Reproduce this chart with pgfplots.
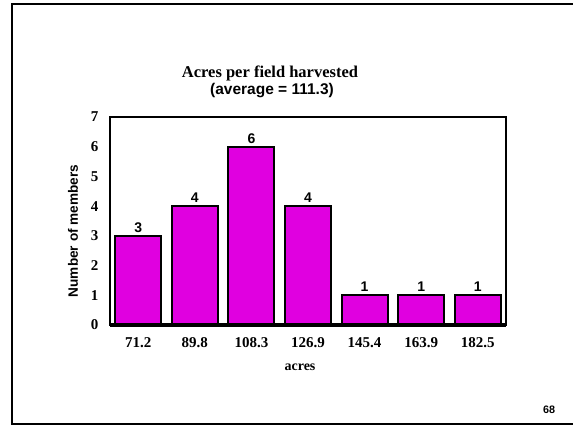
\documentclass[border=0pt]{standalone}
\usepackage{fontspec}
\setmainfont{Liberation Serif}
\newfontfamily\arial{Liberation Sans}
\usepackage{pgfplots}
\pgfplotsset{compat=1.18}
\definecolor{barmag}{RGB}{224,0,224}
\begin{document}
\begin{tikzpicture}[x=1bp,y=1bp]
\useasboundingbox (0,0) rectangle (573,426);
% slide frame
\draw[line width=2bp] (580,422) -- (12,422) -- (12,2) -- (580,2);
% titles
\node[anchor=base,font=\fontsize{16.5bp}{18bp}\selectfont\bfseries] at (270,349) {Acres per field harvested};
\node[anchor=base,font=\arial\fontsize{15.5bp}{17bp}\selectfont\bfseries] at (272,332) {(average = 111.3)};
\node[rotate=90,font=\arial\fontsize{13.6bp}{15bp}\selectfont\bfseries] at (73,195) {Number of members};
\node[anchor=base,font=\fontsize{14bp}{16bp}\selectfont\bfseries] at (300,56) {acres};
\node[anchor=base,font=\arial\fontsize{10.8bp}{12bp}\selectfont\bfseries] at (549,13) {68};
\begin{axis}[
    at={(110bp,101bp)}, anchor=south west,
    scale only axis,
    width=396bp, height=208bp,
    xmin=-0.5, xmax=6.5,
    ymin=0, ymax=7,
    xtick=data,
    xticklabels={71.2,89.8,108.3,126.9,145.4,163.9,182.5},
    ytick={0,1,2,3,4,5,6,7},
    major tick length=0pt,
    axis line style={line width=2.5bp},
    /pgf/number format/assume math mode=true,
    ticklabel style={font=\fontsize{15bp}{17bp}\selectfont\bfseries},
    xticklabel style={yshift=-9bp},
    yticklabel style={xshift=-8bp},
    ybar, bar width=46bp,
    nodes near coords,
    every node near coord/.append style={font=\arial\fontsize{14bp}{16bp}\selectfont\bfseries, yshift=-1bp},
    clip=false,
]
\addplot[fill=barmag, draw=black, line width=2bp] coordinates {
    (0,3) (1,4) (2,6) (3,4) (4,1) (5,1) (6,1)
};
\draw[line width=4bp] (axis cs:-0.5,0) -- (axis cs:6.5,0);
\end{axis}
\end{tikzpicture}
\end{document}
